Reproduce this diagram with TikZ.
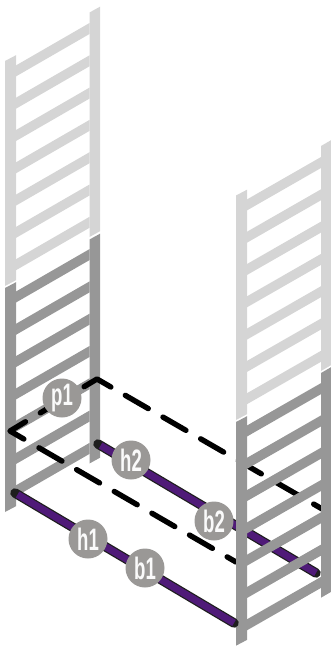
\documentclass[tikz,border=0pt]{standalone}
\usepackage{fontspec}
\setmainfont{Liberation Sans}
\usetikzlibrary{calc}
\definecolor{lite}{HTML}{D5D5D5}
\definecolor{dark}{HTML}{979797}
\definecolor{disc}{HTML}{9A9896}
\definecolor{purp}{HTML}{4F1A78}
\definecolor{barline}{HTML}{1E1E1E}
\tikzset{
  dashline/.style={black,line width=5.4pt,line cap=round,dash pattern=on 26.5pt off 17pt},
  cornerline/.style={black,line width=5.4pt,line cap=round,line join=round},
  barout/.style={barline,line width=9.5pt,line cap=round},
  barin/.style={purp,line width=7pt,shorten <=3pt},
  tag/.style={circle,fill=disc,minimum size=39pt,inner sep=0pt,text=white!95!disc,font=\bfseries\fontsize{31}{31}\selectfont},
}
\newcommand{\postshape}[5]{% colour, xleft, ytop at left, ybottom at left, width
  \fill[#1] (#2,#3) -- (#2+#5,#3-5.8) -- (#2+#5,#4-5.8) -- (#2,#4) -- cycle;}
\newcommand{\rungset}[5]{% colour, xl, xr, ytop at right, k list
  \foreach \k in {#5}{
    \fill[#1] (#2,#4+42.4+\k*32.3) -- (#3,#4+\k*32.3) -- (#3,#4+11+\k*32.3) -- (#2,#4+53.4+\k*32.3) -- cycle;}}
\newcommand{\lbl}[1]{\scalebox{.6}[1]{#1}}
\begin{document}
\begin{tikzpicture}[x=1pt,y=-1pt]
\useasboundingbox (0,0) rectangle (331,646);
\coordinate (T) at (97,379);
\coordinate (L) at (10,431);
\coordinate (TR) at (330,513.5);
\coordinate (LR) at (236,562);
\coordinate (H2a) at (98,444);
\coordinate (H2b) at (316,573);
\coordinate (H1a) at (15,493);
\coordinate (H1b) at (234,623);
% left rack
\rungset{lite}{16}{89.5}{23}{0,...,6}
\rungset{dark}{16}{89.5}{23}{7,...,13}
\postshape{lite}{5}{61}{286}{11}
\postshape{dark}{5}{288}{512}{11}
\postshape{lite}{89.5}{12.5}{237}{10.5}
\postshape{dark}{89.5}{239.5}{463.5}{10.5}
% rear bar and dashed frame
\draw[barout] (H2a) -- (H2b);
\draw[barin] (H2a) -- (H2b);
\draw[dashline] ($(T)!32.7pt!(TR)$) -- (TR);
\draw[dashline] ($(L)!33.5pt!(LR)$) -- (LR);
\draw[cornerline] ($(T)!15pt!(L)$) -- (T) -- ($(T)!16pt!(TR)$);
\draw[cornerline] ($(L)!18pt!(T)$) -- (L) -- ($(L)!16pt!(LR)$);
\draw[cornerline] ($(T)!66pt!(L)$) -- ($(T)!50pt!(L)$);
% right rack
\rungset{lite}{247}{321}{157}{0,...,6}
\rungset{dark}{247}{321}{157}{7,...,13}
\postshape{lite}{236}{195.5}{420}{11}
\postshape{dark}{236}{422}{645.7}{11}
\postshape{lite}{321}{146}{371}{10}
\postshape{dark}{321}{373}{597.7}{10}
% front bar
\draw[barout] (H1a) -- (H1b);
\draw[barin] (H1a) -- (H1b);
% labels
\node[tag] (p1) at (62,398) {\lbl{p1}};
\node[tag] (h2) at (131,460) {\lbl{h2}};
\node[tag] (b2) at (214,521) {\lbl{b2}};
\node[tag] (h1) at (88,539) {\lbl{h1}};
\node[tag] (b1) at (145,568) {\lbl{b1}};
\end{tikzpicture}
\end{document}
